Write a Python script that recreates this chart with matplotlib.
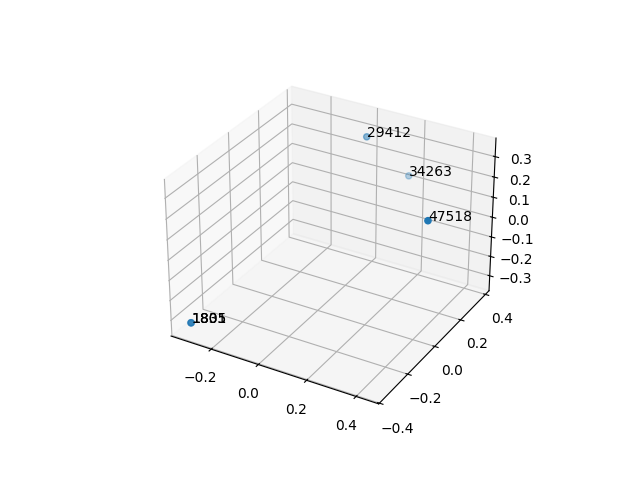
import matplotlib
matplotlib.use('Agg')
from matplotlib import pyplot as plt

labels = ['1805', '1801', '1835', '29412', '34263', '47518']
xs = [-0.335, -0.335, -0.335, 0.048, 0.158, 0.452]
ys = [-0.333, -0.333, -0.333, 0.268, 0.392, -0.006]
zs = [-0.344, -0.344, -0.344, 0.350, 0.122, 0.232]

fig = plt.figure(figsize=(6.4, 4.8), dpi=100)
ax = fig.add_subplot(projection='3d')
ax.scatter(xs, ys, zs)
for x, y, z, s in zip(xs, ys, zs, labels):
    ax.text(x, y, z, s)

ax.set_xlim(-0.374, 0.49)
ax.set_ylim(-0.405, 0.43)
ax.set_zlim(-0.378, 0.39)

fig.savefig('out.png', dpi=100)
